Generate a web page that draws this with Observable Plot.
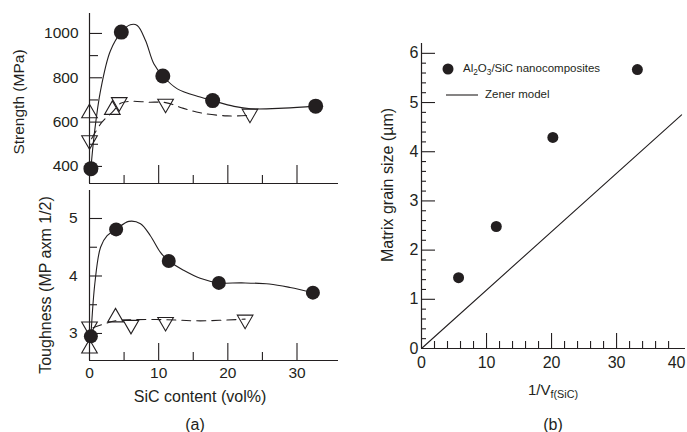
<!DOCTYPE html>
<html><head><meta charset="utf-8">
<script src="https://cdn.jsdelivr.net/npm/d3@7"></script>
<script src="https://cdn.jsdelivr.net/npm/@observablehq/plot@0.6"></script>
<style>
body{margin:0;background:#fff;}
#wrap{position:relative;width:687px;height:432px;overflow:hidden;background:#fff;font-family:"Liberation Sans",Arial,Helvetica,sans-serif;color:#231f20;}
.p{position:absolute;}
.t{position:absolute;white-space:nowrap;line-height:1;transform:translate(-50%,-50%);font-size:16px;}
.r{transform:translate(-50%,-50%) rotate(-90deg);}
.leg{position:absolute;white-space:nowrap;line-height:1;font-size:11.5px;transform:translateY(-50%);}
sub{font-size:0.72em;vertical-align:-0.3em;line-height:0;}
</style></head><body><div id="wrap"></div>
<script>
const ink = "#231f20";

// ---------- Panel (a), top: strength ----------
const strengthNanoSiC = [0.2, 4.6, 10.6, 17.8, 32.7];
const strengthNano    = [390, 1006, 808, 697, 672];
const strengthUpSiC   = [0, 3.3];
const strengthUp      = [640, 655];
const strengthDownSiC = [0, 4.3, 11, 23.2];
const strengthDown    = [518, 690, 683, 638];
const strengthCurveSiC = [0.2, 0.7, 1.6, 3.0, 4.6, 5.9, 6.9, 8.1, 9.3, 10.6, 12.7, 16.0, 17.8, 20.9, 23.3, 28.1, 32.7];
const strengthCurve    = [390, 548, 743, 920, 1006, 1039, 1036, 968, 863, 808, 750, 713, 697, 671, 660, 663, 672];
const strengthDashSiC  = [0.3, 1.8, 3.3, 4.5, 6.0, 8.5, 11.0, 13.6, 16.0, 19.9, 23.0];
const strengthDash     = [525, 600, 645, 685, 694, 690, 688, 662, 642, 628, 630];
const strengthTickLabels = [400, 600, 800, 1000];
const strengthMinorTicks = [500, 700, 900];

// ---------- Panel (a), bottom: toughness ----------
const toughNanoSiC = [0.2, 3.85, 11.46, 18.7, 32.3];
const toughNano    = [2.95, 4.81, 4.26, 3.88, 3.71];
const toughUpSiC   = [0, 3.76];
const toughUp      = [2.74, 3.28];
const toughDownSiC = [0, 6.0, 11.0, 22.5];
const toughDown    = [3.12, 3.15, 3.2, 3.24];
const toughCurveSiC = [0.2, 0.8, 1.6, 2.55, 3.85, 5.68, 7.37, 8.8, 10.26, 11.46, 13.6, 16.0, 18.7, 22.0, 26.0, 29.0, 32.3];
const toughCurve    = [2.95, 3.9, 4.5, 4.7, 4.81, 4.95, 4.91, 4.7, 4.41, 4.26, 4.1, 3.96, 3.88, 3.88, 3.86, 3.8, 3.71];
const toughDashSiC  = [0.5, 3.76, 6.4, 11.0, 16.0, 22.5];
const toughDash     = [3.1, 3.22, 3.24, 3.24, 3.22, 3.25];
const toughTickLabels = [3, 4, 5];
const toughMinorTicks = [3.5, 4.5];
const sicTickLabels = [0, 10, 20, 30];
const sicMajorTicks = [10, 20, 30];
const sicMinorTicks = [5, 15, 25];

// ---------- Panel (b): grain size ----------
const grainInvVf = [5.7, 11.5, 20.2, 33.2];
const grainSize  = [1.44, 2.48, 4.29, 5.67];
const zenerInvVf = [0, 40];
const zenerSize  = [0, 4.75];
const invVfTickLabels = [0, 10, 20, 30];
const invVfLastLabel = [40];
const grainTickLabels = [0, 1, 2, 3, 4, 5, 6];

const pts = (xs, ys) => xs.map((x, i) => ({x, y: ys[i]}));
const fmt = d => String(d);

const triangleDown = {
  draw(context, size) {
    const k = Math.sqrt(size / (Math.sqrt(3) * 3));
    context.moveTo(0, 2 * k);
    context.lineTo(-Math.sqrt(3) * k, -k);
    context.lineTo(Math.sqrt(3) * k, -k);
    context.closePath();
  }
};

const style = {background: "transparent", fontFamily: "'Liberation Sans', Arial, Helvetica, sans-serif", fontSize: "15px", color: ink, overflow: "visible"};

function frameMarks(o) {
  const iw = o.width - o.ml - o.mr, ih = o.height - o.mt - o.mb;
  const m = [
    Plot.ruleX([o.xMin], {stroke: ink, strokeWidth: 1.2}),
    Plot.ruleY([o.yMin], {stroke: ink, strokeWidth: 1.2})
  ];
  if (o.xMajor) m.push(Plot.tickX(o.xMajor, {x: d => d, insetTop: ih - o.xMajorLen, stroke: ink, strokeWidth: 1.1}));
  if (o.xMinor) m.push(Plot.tickX(o.xMinor, {x: d => d, insetTop: ih - o.xMinorLen, stroke: ink, strokeWidth: 1.1}));
  if (o.yMajor) m.push(Plot.tickY(o.yMajor, {y: d => d, insetRight: iw - o.yMajorLen, stroke: ink, strokeWidth: 1.1}));
  if (o.yMinor) m.push(Plot.tickY(o.yMinor, {y: d => d, insetRight: iw - o.yMinorLen, stroke: ink, strokeWidth: 1.1}));
  return m;
}

const wrap = document.getElementById("wrap");
function place(node, left, top) {
  node.classList.add("p");
  node.style.left = left + "px";
  node.style.top = top + "px";
  wrap.appendChild(node);
}

// ---- Plot A: strength ----
{
  const o = {width: 345, height: 200, ml: 89, mr: 7, mt: 13, mb: 17, xMin: 0, yMin: 323,
    xMajor: sicMajorTicks, xMinor: sicMinorTicks, xMajorLen: 18, xMinorLen: 8,
    yMajor: strengthTickLabels, yMinor: strengthMinorTicks, yMajorLen: 13, yMinorLen: 9};
  const A = Plot.plot({
    width: o.width, height: o.height, marginLeft: o.ml, marginRight: o.mr, marginTop: o.mt, marginBottom: o.mb,
    x: {domain: [0, 36], axis: null},
    y: {domain: [323, 1090], axis: null},
    style,
    marks: [
      ...frameMarks(o),
      Plot.axisY({ticks: strengthTickLabels, tickFormat: fmt, tickSize: 0, tickPadding: 11, label: null, fontSize: 15.5}),
      Plot.line(pts(strengthCurveSiC, strengthCurve), {x: "x", y: "y", curve: "catmull-rom", stroke: ink, strokeWidth: 1.1}),
      Plot.line(pts(strengthDashSiC, strengthDash), {x: "x", y: "y", curve: "catmull-rom", stroke: ink, strokeWidth: 1.1, strokeDasharray: "9,6"}),
      Plot.dot(pts(strengthUpSiC, strengthUp), {x: "x", y: "y", symbol: "triangle", r: 5.8, fill: "none", stroke: ink, strokeWidth: 1.1}),
      Plot.dot(pts(strengthDownSiC, strengthDown), {x: "x", y: "y", symbol: triangleDown, r: 5.8, fill: "none", stroke: ink, strokeWidth: 1.1}),
      Plot.dot(pts(strengthNanoSiC, strengthNano), {x: "x", y: "y", r: 7.5, fill: ink, stroke: "none"})
    ]
  });
  place(A, 0, 0);
}

// ---- Plot B: toughness ----
{
  const o = {width: 345, height: 252, ml: 89, mr: 7, mt: 10, mb: 72, xMin: 0, yMin: 2.53,
    xMajor: sicMajorTicks, xMinor: sicMinorTicks, xMajorLen: 17, xMinorLen: 8,
    yMajor: toughTickLabels, yMinor: toughMinorTicks, yMajorLen: 13, yMinorLen: 8};
  const B = Plot.plot({
    width: o.width, height: o.height, marginLeft: o.ml, marginRight: o.mr, marginTop: o.mt, marginBottom: o.mb,
    x: {domain: [0, 36], axis: null},
    y: {domain: [2.53, 5.487], axis: null},
    style,
    marks: [
      ...frameMarks(o),
      Plot.axisY({ticks: toughTickLabels, tickFormat: fmt, tickSize: 0, tickPadding: 12, label: null, fontSize: 15.5}),
      Plot.axisX({ticks: sicTickLabels, tickFormat: fmt, tickSize: 0, tickPadding: 6, label: null, fontSize: 15.5}),
      Plot.line(pts(toughCurveSiC, toughCurve), {x: "x", y: "y", curve: "catmull-rom", stroke: ink, strokeWidth: 1.1}),
      Plot.line(pts(toughDashSiC, toughDash), {x: "x", y: "y", curve: "catmull-rom", stroke: ink, strokeWidth: 1.1, strokeDasharray: "9,6"}),
      Plot.dot(pts(toughUpSiC, toughUp), {x: "x", y: "y", symbol: "triangle", r: 5.8, fill: "none", stroke: ink, strokeWidth: 1.1}),
      Plot.dot(pts(toughDownSiC, toughDown), {x: "x", y: "y", symbol: triangleDown, r: 5.8, fill: "none", stroke: ink, strokeWidth: 1.1}),
      Plot.dot(pts(toughNanoSiC, toughNano), {x: "x", y: "y", r: 7, fill: ink, stroke: "none"})
    ]
  });
  place(B, 0, 180);
}

// ---- Plot C: grain size ----
{
  const xMinor = d3.range(2, 40, 2).filter(d => d % 10 !== 0);
  const yMinor = d3.range(1, 31).map(d => d / 5).filter(d => Math.abs(d - Math.round(d)) > 1e-6);
  const o = {width: 347, height: 432, ml: 81, mr: 2, mt: 43, mb: 84, xMin: 0, yMin: 0,
    xMajor: [10, 20, 30], xMinor, xMajorLen: 15, xMinorLen: 7,
    yMajor: [1, 2, 3, 4, 5, 6], yMinor, yMajorLen: 14, yMinorLen: 5};
  const C = Plot.plot({
    width: o.width, height: o.height, marginLeft: o.ml, marginRight: o.mr, marginTop: o.mt, marginBottom: o.mb,
    x: {domain: [0, 40.6], axis: null},
    y: {domain: [0, 6.2], axis: null},
    style,
    marks: [
      ...frameMarks(o),
      Plot.axisY({ticks: grainTickLabels, tickFormat: fmt, tickSize: 0, tickPadding: 3, label: null, fontSize: 16}),
      Plot.axisX({ticks: invVfTickLabels, tickFormat: fmt, tickSize: 0, tickPadding: 8, label: null, fontSize: 16}),
      Plot.axisX({ticks: invVfLastLabel, tickFormat: fmt, tickSize: 0, tickPadding: 8, label: null, fontSize: 16, dx: -5}),
      Plot.line(pts(zenerInvVf, zenerSize), {x: "x", y: "y", stroke: ink, strokeWidth: 1.1}),
      Plot.dot(pts(grainInvVf, grainSize), {x: "x", y: "y", r: 5.5, fill: ink, stroke: "none"})
    ]
  });
  place(C, 340, 0);
}

// ---- Text: axis titles, panel letters, legend ----
function text(html, cx, cy, cls, size) {
  const d = document.createElement("div");
  d.className = "t" + (cls ? " " + cls : "");
  d.innerHTML = html;
  d.style.left = cx + "px";
  d.style.top = cy + "px";
  if (size) d.style.fontSize = size + "px";
  wrap.appendChild(d);
}
text("Strength (MPa)", 18.5, 102, "r", 15.5);
text("Toughness (MP axm 1/2)", 45.5, 285, "r", 16);
text("SiC content (vol%)", 200, 397, "", 16);
text("(a)", 195, 425, "", 16);
text("Matrix grain size (µm)", 388, 185, "r", 16);
text("1/V<sub>f(SiC)</sub>", 553, 389, "", 15);
text("(b)", 553, 425, "", 16);

// legend for panel (b)
const legSvg = document.createElementNS("http://www.w3.org/2000/svg", "svg");
legSvg.setAttribute("width", "40"); legSvg.setAttribute("height", "40");
legSvg.style.position = "absolute"; legSvg.style.left = "440px"; legSvg.style.top = "60px";
legSvg.innerHTML = `<circle cx="8" cy="9" r="5.5" fill="${ink}"/><line x1="6" x2="38" y1="35" y2="35" stroke="${ink}" stroke-width="1.1"/>`;
wrap.appendChild(legSvg);
function leg(html, left, cy) {
  const d = document.createElement("div");
  d.className = "leg"; d.innerHTML = html;
  d.style.left = left + "px"; d.style.top = cy + "px";
  wrap.appendChild(d);
}
leg("Al<sub>2</sub>O<sub>3</sub>/SiC nanocomposites", 463, 69);
leg("Zener model", 485, 95);
</script>
</body></html>
